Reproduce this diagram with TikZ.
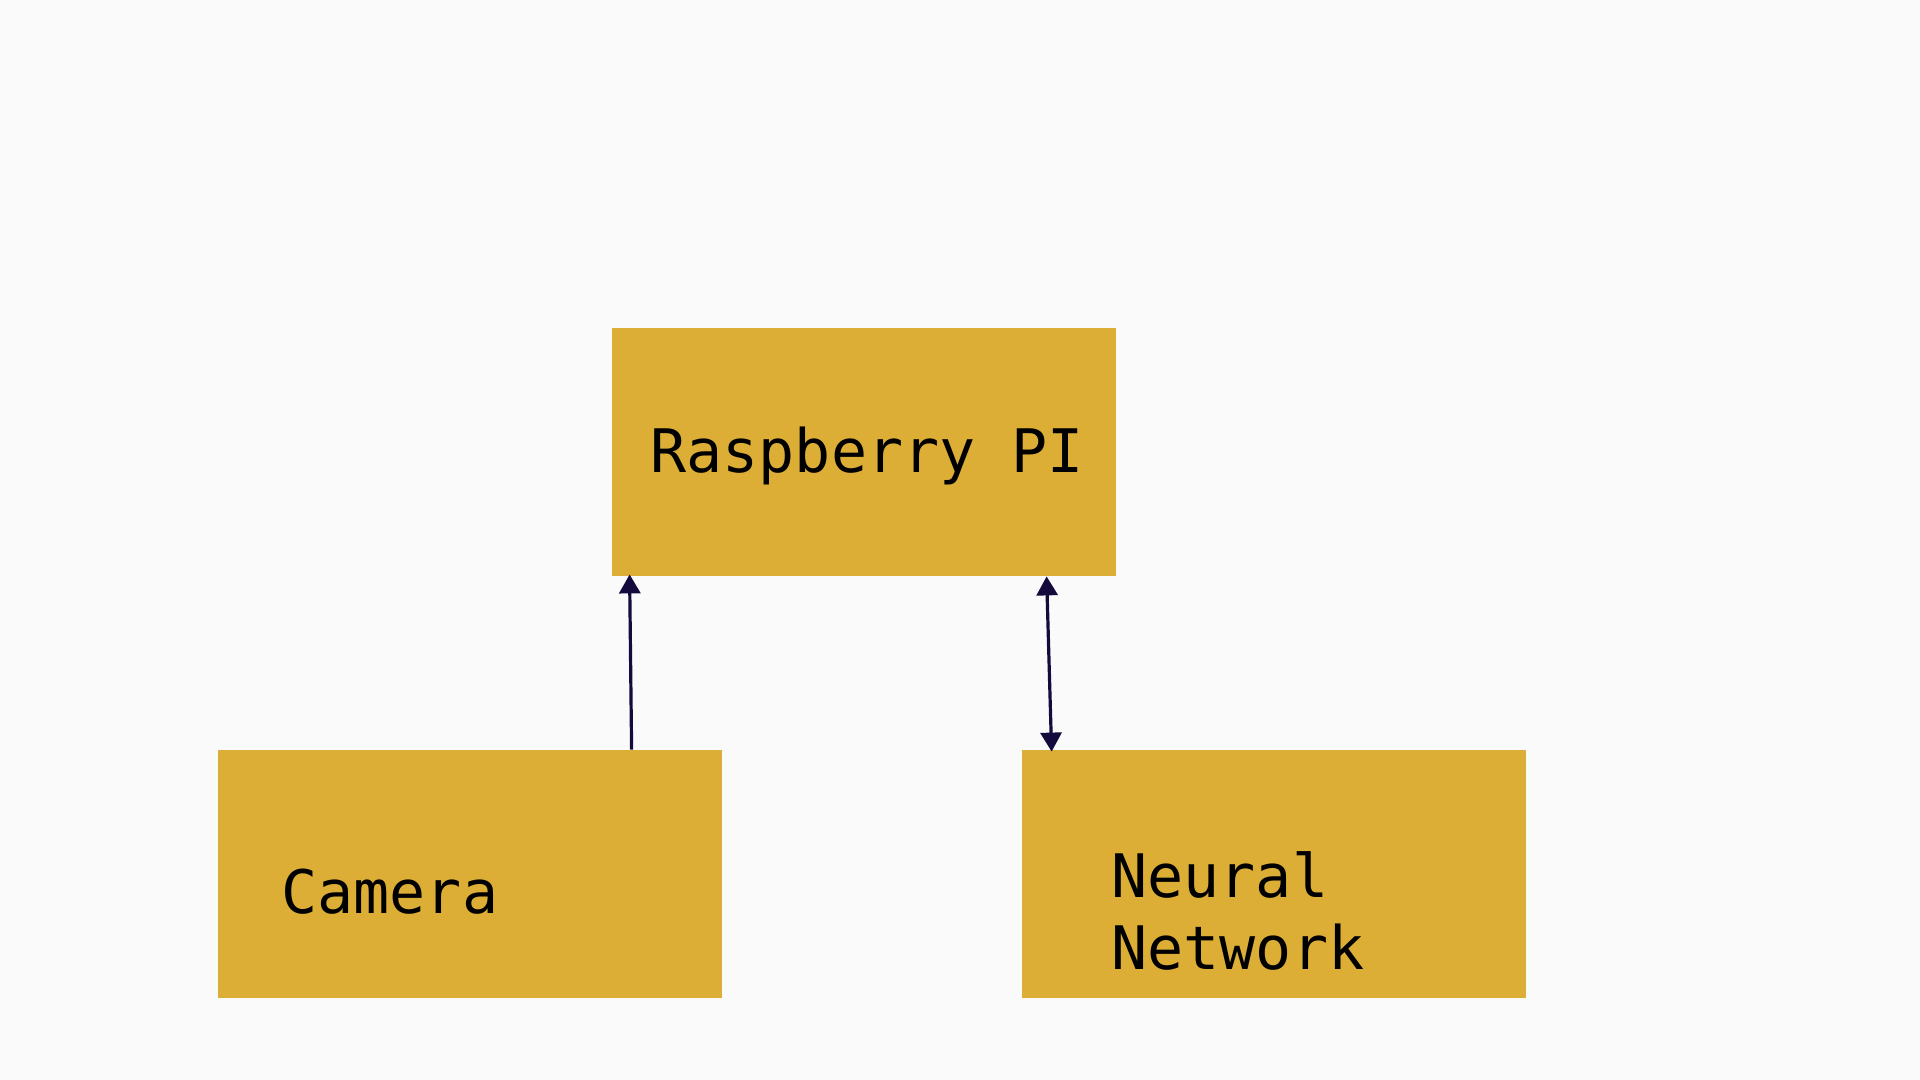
\documentclass[tikz,border=0pt]{standalone}
\usepackage{fontspec}
\newfontfamily\boxmono{DejaVu Sans Mono}
\usetikzlibrary{calc,arrows.meta}
\definecolor{bgc}{HTML}{FAFAFA}
\definecolor{boxc}{HTML}{DCAE36}
\definecolor{arrc}{HTML}{140A3C}
\tikzset{
  block/.style={fill=boxc, draw=none, minimum width=252pt, minimum height=124pt, inner sep=0pt},
  lbl/.style={font=\boxmono\fontsize{30pt}{36pt}\selectfont, text=black, inner sep=0pt, align=left},
  conn/.style={draw=arrc, line width=1.6pt, -{Triangle[length=9.5pt,width=10.5pt]}},
  conn2/.style={draw=arrc, line width=1.6pt, {Triangle[length=9.5pt,width=10.5pt]}-{Triangle[length=9.5pt,width=10.5pt]}}
}
\begin{document}
\begin{tikzpicture}[x=0.5pt,y=-0.5pt]
\fill[bgc] (0,0) rectangle (1920,1080);
\useasboundingbox (0,0) rectangle (1920,1080);
\node[block] (rpi) at (864,452) {};
\node[block] (cam) at (470,874) {};
\node[block] (nn) at (1274,874) {};
\node[lbl, anchor=base west] (rpitext) at (650,472) {Raspberry PI};
\node[lbl, anchor=base west] (camtext) at (281,913) {Camera};
\node[lbl, anchor=base west] (nntext) at (1111,969) {Neural\\Network};
\coordinate (a1s) at ($(cam.north west)+(414,0)$);
\coordinate (a1e) at ($(rpi.south west)+(18,-2)$);
\coordinate (a2s) at ($(rpi.south west)+(435,0)$);
\coordinate (a2e) at ($(nn.north west)+(30,2)$);
\draw[conn] (a1s) -- (a1e);
\draw[conn2] (a2s) -- (a2e);
\end{tikzpicture}
\end{document}
